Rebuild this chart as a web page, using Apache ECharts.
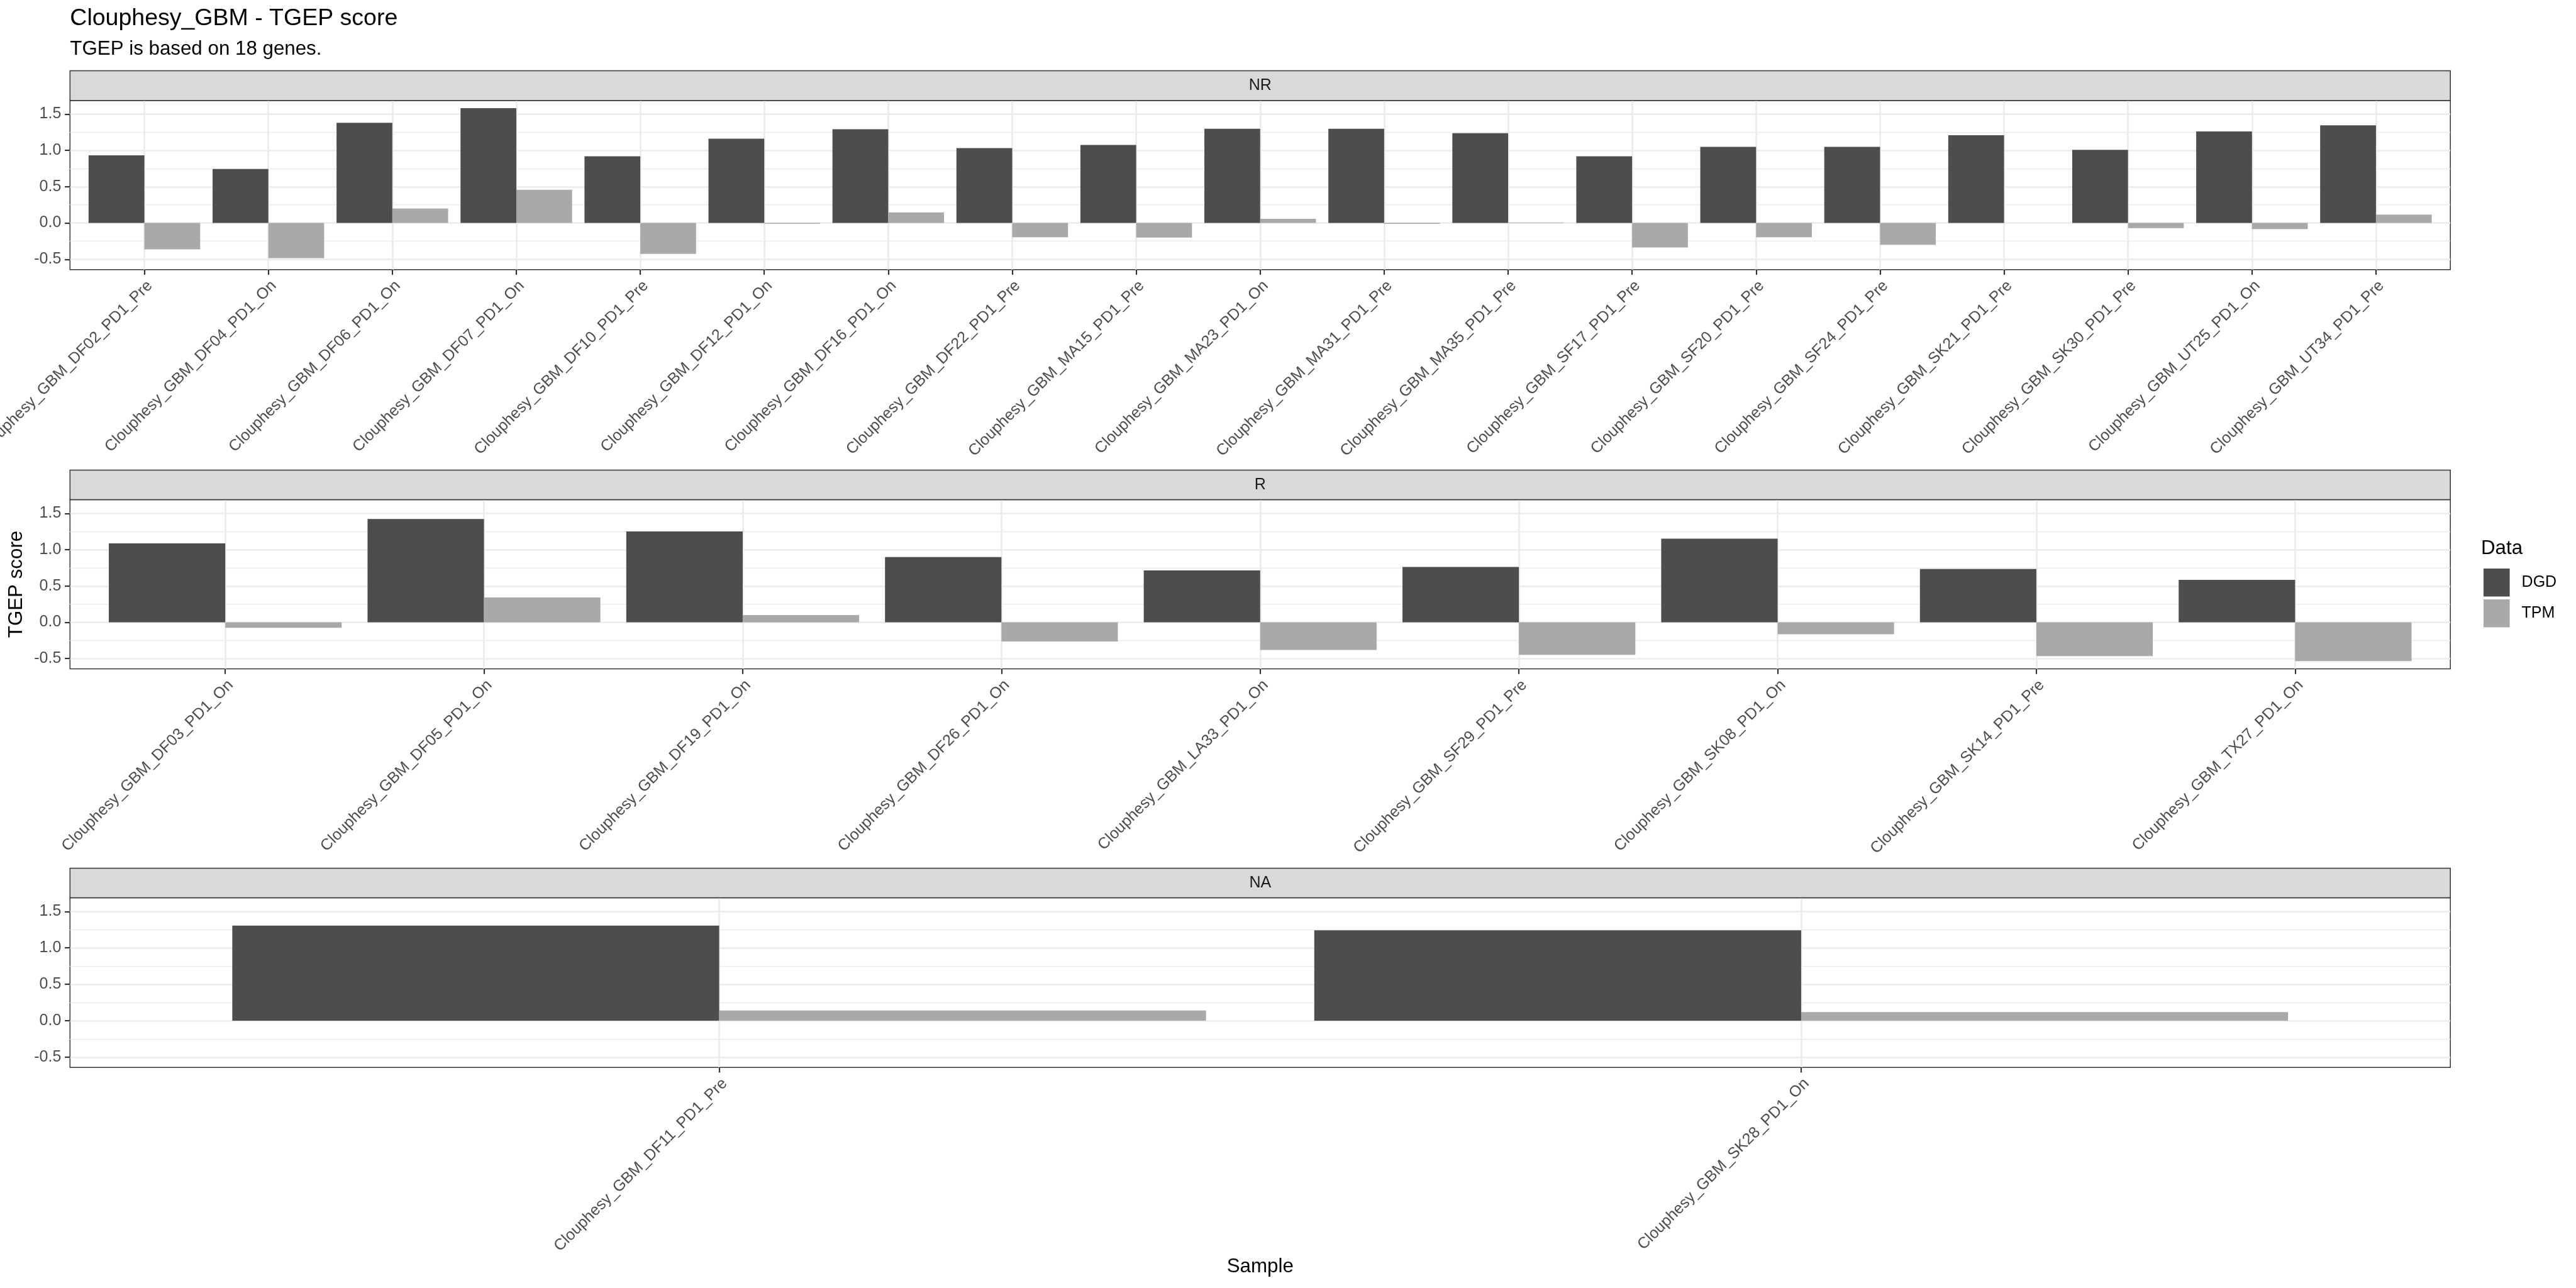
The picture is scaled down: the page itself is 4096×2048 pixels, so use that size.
<!DOCTYPE html>
<html><head><meta charset="utf-8">
<script src="https://cdn.jsdelivr.net/npm/echarts@6/dist/echarts.min.js"></script>
<style>html,body{margin:0;padding:0;background:#fff}#c{width:4096px;height:2048px}</style>
</head><body><div id="c"></div>
<script>
// ---------- data ----------
const nrSamples = ['Clouphesy_GBM_DF02_PD1_Pre','Clouphesy_GBM_DF04_PD1_On','Clouphesy_GBM_DF06_PD1_On','Clouphesy_GBM_DF07_PD1_On','Clouphesy_GBM_DF10_PD1_Pre','Clouphesy_GBM_DF12_PD1_On','Clouphesy_GBM_DF16_PD1_On','Clouphesy_GBM_DF22_PD1_Pre','Clouphesy_GBM_MA15_PD1_Pre','Clouphesy_GBM_MA23_PD1_On','Clouphesy_GBM_MA31_PD1_Pre','Clouphesy_GBM_MA35_PD1_Pre','Clouphesy_GBM_SF17_PD1_Pre','Clouphesy_GBM_SF20_PD1_Pre','Clouphesy_GBM_SF24_PD1_Pre','Clouphesy_GBM_SK21_PD1_Pre','Clouphesy_GBM_SK30_PD1_Pre','Clouphesy_GBM_UT25_PD1_On','Clouphesy_GBM_UT34_PD1_Pre'];
const nrDGD = [0.931,0.743,1.380,1.581,0.919,1.162,1.292,1.032,1.074,1.297,1.297,1.238,0.919,1.049,1.049,1.208,1.007,1.262,1.346];
const nrTPM = [-0.363,-0.485,0.199,0.458,-0.426,-0.010,0.145,-0.196,-0.201,0.056,-0.012,0.008,-0.338,-0.196,-0.301,0.000,-0.071,-0.083,0.115];

const rSamples = ['Clouphesy_GBM_DF03_PD1_On','Clouphesy_GBM_DF05_PD1_On','Clouphesy_GBM_DF19_PD1_On','Clouphesy_GBM_DF26_PD1_On','Clouphesy_GBM_LA33_PD1_On','Clouphesy_GBM_SF29_PD1_Pre','Clouphesy_GBM_SK08_PD1_On','Clouphesy_GBM_SK14_PD1_Pre','Clouphesy_GBM_TX27_PD1_On'];
const rDGD = [1.086,1.423,1.251,0.898,0.715,0.762,1.152,0.733,0.584];
const rTPM = [-0.077,0.342,0.100,-0.265,-0.382,-0.448,-0.165,-0.466,-0.536];

const naSamples = ['Clouphesy_GBM_DF11_PD1_Pre','Clouphesy_GBM_SK28_PD1_On'];
const naDGD = [1.305,1.241];
const naTPM = [0.139,0.117];

const facetNames = ['NR','R','NA'];
const seriesNames = ['DGD','TPM'];
const yTicks = [-0.5,0,0.5,1,1.5];
const yMinorTicks = [-0.25,0.25,0.75,1.25];
const yRange = [-0.642,1.688];
const titleText = 'Clouphesy_GBM - TGEP score';
const subtitleText = 'TGEP is based on 18 genes.';
const xTitle = 'Sample';
const yTitle = 'TGEP score';
const legendTitle = 'Data';

// ---------- layout / style ----------
const FONT = '"Liberation Sans", Arial, Helvetica, sans-serif';
const L = 111.3, R = 3896.2, W = R - L, CX = (L + R) / 2;
const panels = [
  {stripTop: 112.6, top: 159.7, bottom: 428.7},
  {stripTop: 747.5, top: 794.6, bottom: 1063.6},
  {stripTop: 1380.4, top: 1427.5, bottom: 1697.2}
];
const colors = ['#4D4D4D', '#A9A9A9'];
const BORDER = '#333333', GRIDC = '#EBEBEB';
const facetData = [
  {cats: nrSamples, vals: [nrDGD, nrTPM]},
  {cats: rSamples, vals: [rDGD, rTPM]},
  {cats: naSamples, vals: [naDGD, naTPM]}
];

const grid = [], xAxis = [], yAxis = [], series = [], graphic = [];
panels.forEach((p, i) => {
  const n = facetData[i].cats.length;
  const u = W / (n + 0.2);           // discrete scale padded by 0.6 units each side
  const H = p.bottom - p.top;
  // grid 2i: full panel (border, horizontal grid lines, y axis)
  grid.push({left: L, width: W, top: p.top, height: H,
    show: true, borderColor: BORDER, borderWidth: 1.5, backgroundColor: 'transparent',
    containLabel: false, outerBoundsMode: 'none'});
  // grid 2i+1: inner data area
  grid.push({left: L + 0.1 * u, width: n * u, top: p.top, height: H,
    show: false, containLabel: false, outerBoundsMode: 'none'});

  xAxis.push({type: 'value', gridIndex: 2 * i, min: 0, max: 1, show: false});
  xAxis.push({type: 'category', gridIndex: 2 * i + 1, data: facetData[i].cats,
    axisLine: {show: false, onZero: false},
    axisTick: {show: true, alignWithLabel: true, length: 8.2, lineStyle: {color: BORDER, width: 2.2}},
    axisLabel: {interval: 0, rotate: 45, align: 'right', verticalAlign: 'top', margin: 13,
      fontSize: 25, color: '#4D4D4D', fontFamily: FONT},
    splitLine: {show: true, alignWithLabel: true, lineStyle: {color: GRIDC, width: 2.7}}});

  yAxis.push({type: 'value', gridIndex: 2 * i, min: yRange[0], max: yRange[1],
    axisLine: {show: false, onZero: false},
    axisTick: {show: true, length: 8.2, customValues: yTicks, lineStyle: {color: BORDER, width: 2.2}},
    axisLabel: {customValues: yTicks, formatter: v => Number(v).toFixed(1), margin: 14,
      fontSize: 25, color: '#4D4D4D', fontFamily: FONT},
    splitLine: {show: true, lineStyle: {color: GRIDC, width: 2.7}}});
  yAxis.push({type: 'value', gridIndex: 2 * i, min: yRange[0], max: yRange[1],
    axisLine: {show: false, onZero: false},
    axisTick: {show: false, customValues: yMinorTicks},
    axisLabel: {show: false},
    splitLine: {show: true, lineStyle: {color: GRIDC, width: 1.4}}});
  yAxis.push({type: 'value', gridIndex: 2 * i + 1, min: yRange[0], max: yRange[1],
    axisLine: {show: false, onZero: false}, axisTick: {show: false},
    axisLabel: {show: false}, splitLine: {show: false}});

  seriesNames.forEach((nm, k) => {
    series.push({type: 'bar', name: nm, xAxisIndex: 2 * i + 1, yAxisIndex: 3 * i + 2,
      data: facetData[i].vals[k], barGap: '0%', barCategoryGap: '10%',
      itemStyle: {color: colors[k]}, silent: true, animation: false});
  });
  graphic.push({type: 'rect', shape: {x: L, y: p.stripTop, width: W, height: p.top - p.stripTop},
    style: {fill: '#D9D9D9', stroke: BORDER, lineWidth: 1.5}, z: 10});
  graphic.push({type: 'text', x: CX, y: (p.stripTop + p.top) / 2,
    style: {text: facetNames[i], fontSize: 25, fontFamily: FONT, fill: '#1A1A1A', align: 'center', verticalAlign: 'middle'}, z: 11});
});

graphic.push({type: 'text', x: L, y: 29.2, style: {text: titleText, fontSize: 37.5, fontFamily: FONT, fill: '#000', align: 'left', verticalAlign: 'middle'}});
graphic.push({type: 'text', x: L, y: 78.2, style: {text: subtitleText, fontSize: 31.3, fontFamily: FONT, fill: '#000', align: 'left', verticalAlign: 'middle'}});
graphic.push({type: 'text', x: CX, y: 2014, style: {text: xTitle, fontSize: 31.3, fontFamily: FONT, fill: '#000', align: 'center', verticalAlign: 'middle'}});
graphic.push({type: 'text', x: 26, y: 929, rotation: Math.PI / 2, style: {text: yTitle, fontSize: 31.3, fontFamily: FONT, fill: '#000', align: 'center', verticalAlign: 'middle'}});
graphic.push({type: 'text', x: 3945, y: 872, style: {text: legendTitle, fontSize: 31.3, fontFamily: FONT, fill: '#000', align: 'left', verticalAlign: 'middle'}});

const chart = echarts.init(document.getElementById('c'), null, {renderer: 'canvas'});
chart.setOption({
  backgroundColor: '#ffffff',
  animation: false,
  textStyle: {fontFamily: FONT},
  grid, xAxis, yAxis, series, graphic,
  legend: {data: seriesNames, orient: 'vertical', left: 3949, top: 904, padding: 0,
    itemWidth: 41.6, itemHeight: 44.4, itemGap: 4.7, icon: 'rect', selectedMode: false,
    textStyle: {fontSize: 25, color: '#000', fontFamily: FONT, padding: [0, 0, 0, 14]}}
});
</script></body></html>
